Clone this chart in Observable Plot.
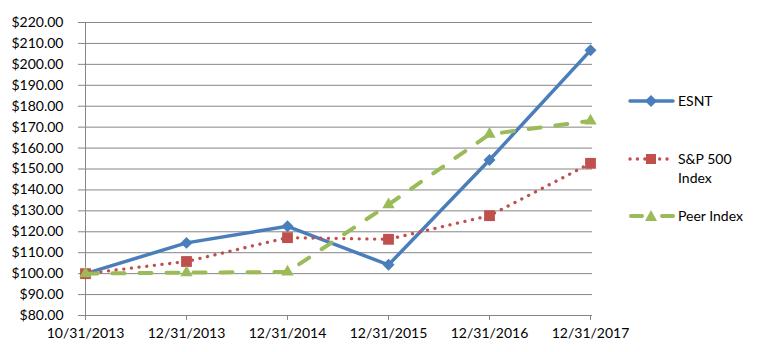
<!DOCTYPE html>
<html>
<head>
<meta charset="utf-8">
<script src="https://cdn.jsdelivr.net/npm/d3@7"></script>
<script src="https://cdn.jsdelivr.net/npm/@observablehq/plot@0.6"></script>
<style>
  html, body { margin: 0; padding: 0; background: #fff; }
  #wrap { position: relative; width: 771px; height: 352px; font-family: Lato, "Open Sans", sans-serif; }
  .leg { position: absolute; font-size: 14px; color: #000; line-height: 19px; }
  .leg svg { position: absolute; overflow: visible; }
</style>
</head>
<body>
<div id="wrap"></div>
<script>
const dates = ["10/31/2013", "12/31/2013", "12/31/2014", "12/31/2015", "12/31/2016", "12/31/2017"];
const esnt  = [100, 114.7, 122.6, 104.2, 154.3, 206.7];
const sp500 = [100, 105.8, 117.2, 116.4, 127.7, 152.7];
const peer  = [100, 100.5, 100.8, 133.0, 166.6, 173.0];
const yTicks = d3.range(80, 221, 10);
const seriesNames = ["ESNT", "S&P 500 Index", "Peer Index"];
const colors = ["#4a7ebb", "#c0504d", "#9bbb59"];

const table = (vals) => vals.map((v, i) => ({date: dates[i], value: v}));

const chart = Plot.plot({
  width: 771,
  height: 352,
  marginLeft: 83,
  marginRight: 179,
  marginTop: 22,
  marginBottom: 37,
  x: {type: "point", domain: dates, padding: 0},
  y: {domain: [80, 220]},
  style: {fontFamily: "Lato, 'Open Sans', sans-serif", fontSize: "14px", color: "#000", background: "white"},
  marks: [
    Plot.ruleY(yTicks, {stroke: "#868686", strokeWidth: 1}),
    Plot.ruleX([dates[0]], {stroke: "#868686", strokeWidth: 1}),
    Plot.axisY({ticks: yTicks, tickFormat: d => "$" + d.toFixed(2), tickSize: 5, tickPadding: 15, stroke: "#868686", fill: "#000", label: null}),
    Plot.axisX({tickSize: 5, tickPadding: 8, stroke: "#868686", fill: "#000", label: null}),
    // ESNT
    Plot.line(table(esnt), {x: "date", y: "value", stroke: colors[0], strokeWidth: 3.5, strokeLinejoin: "round"}),
    Plot.dot(table(esnt), {x: "date", y: "value", symbol: "diamond2", r: 5.4, fill: colors[0], stroke: "none"}),
    // S&P 500
    Plot.line(table(sp500), {x: "date", y: "value", stroke: colors[1], strokeWidth: 3.3, strokeLinecap: "round", strokeDasharray: "0.1 7.6"}),
    Plot.dot(table(sp500), {x: "date", y: "value", symbol: "square", r: 6.1, fill: colors[1], stroke: "none"}),
    // Peer
    Plot.line(table(peer), {x: "date", y: "value", stroke: colors[2], strokeWidth: 4, strokeLinecap: "round", strokeDasharray: "12 15"}),
    Plot.dot(table(peer), {x: "date", y: "value", symbol: "triangle", r: 4.6, fill: colors[2], stroke: "none"})
  ]
});

const wrap = document.getElementById("wrap");
wrap.appendChild(chart);

// Legend (HTML overlay)
function legendItem(idx, cy, lines, marker) {
  const sw = document.createElementNS("http://www.w3.org/2000/svg", "svg");
  sw.setAttribute("width", 50); sw.setAttribute("height", 20);
  sw.style.left = "627px"; sw.style.top = (cy - 10) + "px";
  const c = colors[idx];
  let line;
  if (idx === 0) line = `<line x1="3" y1="10" x2="46" y2="10" stroke="${c}" stroke-width="3.5" stroke-linecap="round"/>`;
  else if (idx === 1) line = `<line x1="3" y1="10" x2="47" y2="10" stroke="${c}" stroke-width="3.3" stroke-linecap="round" stroke-dasharray="0.1 7.3"/>`;
  else line = `<line x1="4" y1="10" x2="46" y2="10" stroke="${c}" stroke-width="4" stroke-linecap="round" stroke-dasharray="11 20"/>`;
  sw.innerHTML = line + marker(c);
  sw.classList.add("legsw");
  sw.style.position = "absolute";
  sw.style.overflow = "visible";
  wrap.appendChild(sw);
  const t = document.createElement("div");
  t.className = "leg";
  t.style.left = "678px";
  t.style.top = (cy - 10) + "px";
  t.innerHTML = lines.join("<br>");
  wrap.appendChild(t);
}
legendItem(0, 101, ["ESNT"], c => `<path d="M24,4 L30,10 L24,16 L18,10 Z" fill="${c}"/>`);
legendItem(1, 159, ["S&amp;P 500", "Index"], c => `<rect x="19" y="5" width="10" height="10" fill="${c}"/>`);
legendItem(2, 216, ["Peer Index"], c => `<path d="M24,4 L30,15 L18,15 Z" fill="${c}"/>`);
</script>
</body>
</html>
